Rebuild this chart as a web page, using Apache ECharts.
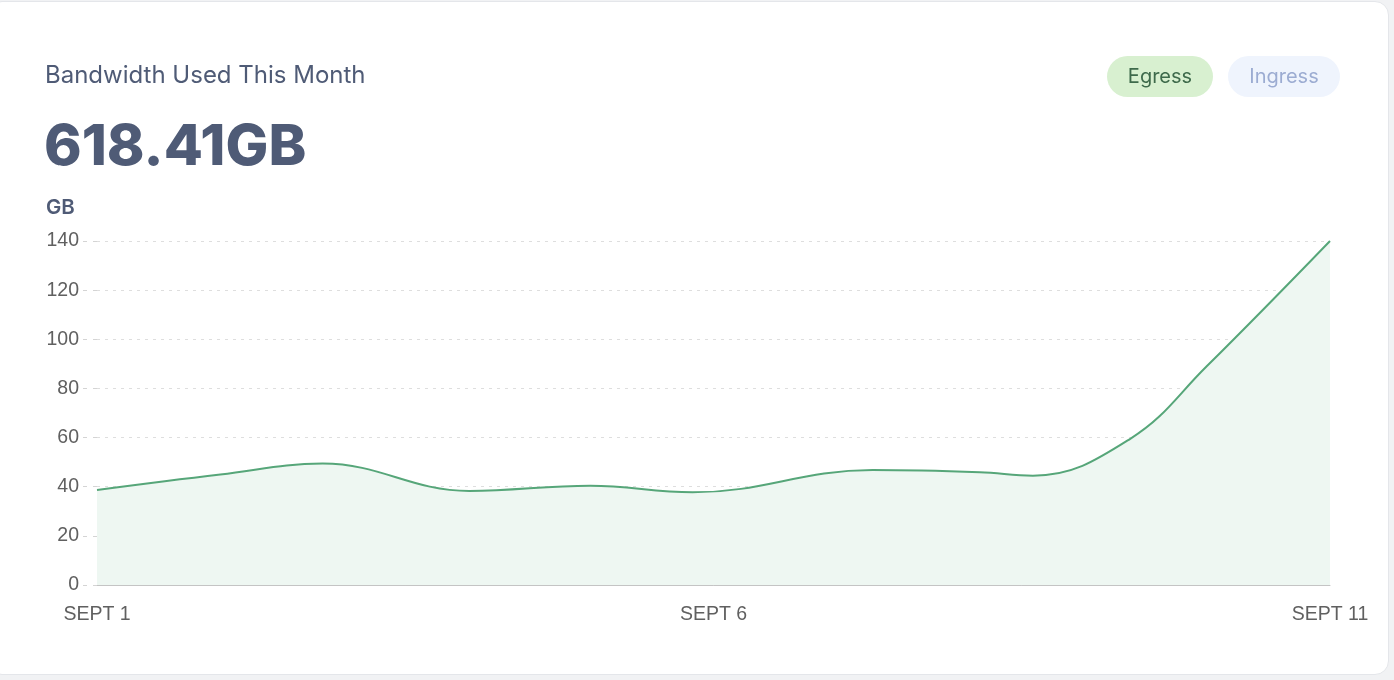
<!DOCTYPE html>
<html>
<head>
<meta charset="utf-8">
<script src="https://cdn.jsdelivr.net/npm/echarts@6/dist/echarts.min.js"></script>
<style>
  html, body { margin: 0; padding: 0; width: 1394px; height: 680px; background: #f1f2f4; overflow: hidden; }
  #card { position: absolute; left: -12px; top: 1px; width: 1401px; height: 674px; background: #ffffff;
          border: 1px solid #e4e6ea; border-radius: 14px; box-sizing: border-box; }
  #chart { position: absolute; left: 0; top: 0; width: 1394px; height: 680px; }
</style>
</head>
<body>
<div id="card"></div>
<div id="chart"></div>
<script>
// ---- data ----
const titleText = 'Bandwidth Used This Month';
const totalText = '618.41GB';
const unitText = 'GB';
const legendNames = ['Egress', 'Ingress'];
// day offset from SEPT 1
const dayOffsets = [0, 1.0, 1.83, 3.02, 4.0, 4.83, 6.29, 7.16, 7.59, 8.38, 9.0, 10];
const egressGB   = [38.7, 45.0, 49.4, 38.3, 40.4, 37.7, 46.8, 45.9, 44.5, 59.5, 89, 140];
const xTickLabels = { 0: 'SEPT 1', 5: 'SEPT 6', 10: 'SEPT 11' };
const yTicks = [0, 20, 40, 60, 80, 100, 120, 140];

const chart = echarts.init(document.getElementById('chart'), null, { renderer: 'canvas' });
const font = 'Inter, "Noto Sans", sans-serif';
const axisFont = '"Liberation Sans", Arial, Helvetica, sans-serif';

const option = {
  backgroundColor: 'transparent',
  animation: false,
  textStyle: { fontFamily: font },
  title: [
    { text: titleText, left: 45, top: 61, padding: 0, textStyle: { fontFamily: font, fontSize: 24, fontWeight: 400, color: '#4f5b76', lineHeight: 30 } },
    { text: totalText, left: 44, top: 115, padding: 0, textStyle: { fontFamily: font, fontSize: 57, fontWeight: 800, color: '#4f5b76', lineHeight: 66 } },
    { text: unitText, left: 46, top: 196, padding: 0, textStyle: { fontFamily: font, fontSize: 20.5, fontWeight: 600, color: '#4f5b76', lineHeight: 24 } }
  ],
  graphic: [
    { type: 'rect', shape: { x: 1107, y: 56, width: 106, height: 41, r: 20.5 }, style: { fill: '#d8f0d0' } },
    { type: 'text', x: 1160, y: 77, style: { text: legendNames[0], font: '400 20px ' + font, fill: '#3e6a4b', align: 'center', verticalAlign: 'middle' } },
    { type: 'rect', shape: { x: 1228, y: 56, width: 112, height: 41, r: 20.5 }, style: { fill: '#eff4fd' } },
    { type: 'text', x: 1284, y: 77, style: { text: legendNames[1], font: '400 20px ' + font, fill: '#9cacd2', align: 'center', verticalAlign: 'middle' } }
  ],
  grid: { left: 97, right: 64, top: 241, bottom: 95, containLabel: false },
  xAxis: {
    type: 'value', min: 0, max: 10, interval: 5,
    axisLine: { show: true, lineStyle: { color: '#c4c4c4', width: 1 } },
    axisTick: { show: false },
    splitLine: { show: false },
    axisLabel: { fontFamily: axisFont, fontSize: 19.5, color: '#606060', margin: 20,
      formatter: v => xTickLabels[v] || '' }
  },
  yAxis: {
    type: 'value', min: yTicks[0], max: yTicks[yTicks.length - 1], interval: 20,
    axisLine: { show: false },
    axisTick: { show: true, length: 18, lineStyle: { color: '#d4d4d4', type: [4, 6] } },
    splitLine: { show: true, lineStyle: { color: '#dedede', type: [3, 5], width: 1 } },
    axisLabel: { fontFamily: axisFont, fontSize: 19.5, color: '#606060', margin: 18 }
  },
  series: [{
    name: legendNames[0],
    type: 'line',
    data: dayOffsets.map((d, i) => [d, egressGB[i]]),
    smooth: 0.4,
    showSymbol: false,
    lineStyle: { color: '#56a679', width: 2 },
    areaStyle: { color: '#eef7f2', opacity: 1 },
    z: 3
  }]
};
chart.setOption(option);
</script>
</body>
</html>
